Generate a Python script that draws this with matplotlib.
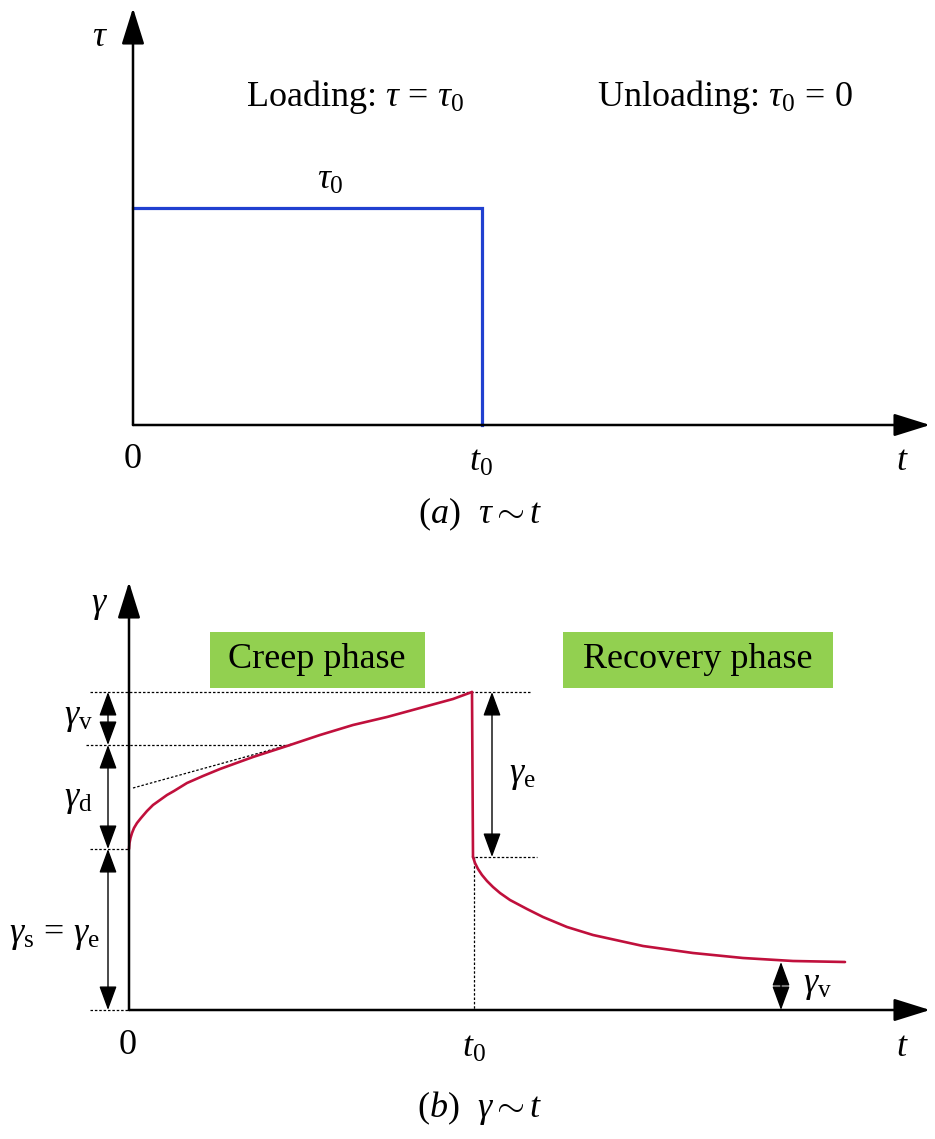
import matplotlib
matplotlib.use("Agg")
import matplotlib.pyplot as plt
from matplotlib.patches import Rectangle

plt.rcParams['font.family'] = ['Liberation Serif', 'DejaVu Serif']
plt.rcParams['mathtext.fontset'] = 'custom'
plt.rcParams['mathtext.rm'] = 'Liberation Serif'
plt.rcParams['mathtext.it'] = 'Liberation Serif:italic'

# panel (a): stress history (pixel coords of the sketch)
tau_t = [133, 482, 482]
tau_v = [208, 208, 425]

# panel (b): strain history
creep_t = [129, 129.5, 130.5, 132, 134, 137, 141, 147, 153, 160, 167, 174,
           187, 203, 220, 253, 287, 320, 353, 387, 420, 453, 472]
creep_g = [849, 843, 838, 833, 828, 823, 818, 811, 805, 800, 795, 791,
           783, 776, 769, 757, 746, 735, 725, 717, 708, 699, 692]
drop_t = [472, 473]
drop_g = [692, 857]
rec_t = [473, 475, 478, 482, 487, 493, 500, 510, 527, 543, 567, 593, 643,
         693, 743, 793, 845]
rec_g = [857, 863, 869, 875, 881, 887, 893, 900, 909, 917, 927, 935, 946,
         953, 958, 961, 962]

FS = 26
RED = '#c0103c'
BLUE = '#2040d0'
GREEN = '#92d050'

fig = plt.figure(figsize=(9.35, 11.39), dpi=100)
ax = fig.add_axes([0, 0, 1, 1])
ax.set_xlim(0, 935)
ax.set_ylim(1139, 0)
ax.axis('off')


def axis_arrow(x0, y0, x1, y1):
    ax.annotate('', xy=(x1, y1), xytext=(x0, y0),
                arrowprops=dict(arrowstyle='-|>,head_length=1.6,head_width=0.5',
                                color='k', lw=1.8, shrinkA=0, shrinkB=0,
                                mutation_scale=14))


def dim_arrow(x, y0, y1):
    ax.annotate('', xy=(x, y1), xytext=(x, y0),
                arrowprops=dict(arrowstyle='<|-|>,head_length=1.5,head_width=0.55',
                                color='k', lw=1.0, shrinkA=0, shrinkB=0,
                                mutation_scale=10))


def dotted(xs, ys):
    ax.plot(xs, ys, color='k', lw=0.9, ls=(0, (2, 1.5)))


# ---- (a) ----
axis_arrow(133, 425, 133, 8)
axis_arrow(133, 425, 930, 425)
ax.plot(tau_t, tau_v, color=BLUE, lw=2.3, solid_joinstyle='miter')
ax.text(100, 38, r'$\tau$', fontsize=FS, ha='center', va='center')
ax.text(355, 97, r'Loading: $\tau\,=\,\tau_0$', fontsize=FS, ha='center', va='center')
ax.text(725, 97, r'Unloading: $\tau_0\,=\,0$', fontsize=FS, ha='center', va='center')
ax.text(330, 180, r'$\tau_0$', fontsize=FS, ha='center', va='center')
ax.text(133, 460, '0', fontsize=FS, ha='center', va='center')
ax.text(481, 462, r'$t_0$', fontsize=FS, ha='center', va='center')
ax.text(902, 462, r'$t$', fontsize=FS, ha='center', va='center')
ax.text(480, 514, r'$(a)$  $\tau\sim t$', fontsize=FS, ha='center', va='center')

# ---- (b) ----
axis_arrow(129, 1010, 129, 582)
axis_arrow(129, 1010, 930, 1010)

ax.add_patch(Rectangle((210, 632), 215, 56, color=GREEN, lw=0))
ax.add_patch(Rectangle((563, 632), 270, 56, color=GREEN, lw=0))
ax.text(317, 660, 'Creep phase', fontsize=FS, ha='center', va='center')
ax.text(698, 660, 'Recovery phase', fontsize=FS, ha='center', va='center')

dotted([90, 530], [692, 692])
dotted([86, 290], [745, 745])
dotted([90, 129], [849, 849])
dotted([90, 129], [1010, 1010])
dotted([475, 537], [857, 857])
dotted([474, 474], [857, 1010])
dotted([133, 292], [788, 744])

for xs, ys in [(creep_t, creep_g), (drop_t, drop_g), (rec_t, rec_g)]:
    ax.plot(xs, ys, color=RED, lw=1.9, solid_joinstyle='round',
            solid_capstyle='round')

dim_arrow(108, 692, 745)
dim_arrow(108, 745, 849)
dim_arrow(108, 849, 1010)
dim_arrow(492, 692, 857)
dim_arrow(781, 962, 1010)

ax.text(100, 606, r'$\gamma$', fontsize=FS, ha='center', va='center')
ax.text(78, 718, r'$\gamma_{\rm v}$', fontsize=FS, ha='center', va='center')
ax.text(78, 800, r'$\gamma_{\rm d}$', fontsize=FS, ha='center', va='center')
ax.text(55, 936, r'$\gamma_{\rm s}\,=\,\gamma_{\rm e}$', fontsize=FS, ha='center', va='center')
ax.text(522, 775, r'$\gamma_{\rm e}$', fontsize=FS, ha='center', va='center')
ax.text(817, 986, r'$\gamma_{\rm v}$', fontsize=FS, ha='center', va='center')
ax.text(128, 1046, '0', fontsize=FS, ha='center', va='center')
ax.text(474, 1048, r'$t_0$', fontsize=FS, ha='center', va='center')
ax.text(902, 1048, r'$t$', fontsize=FS, ha='center', va='center')
ax.text(480, 1108, r'$(b)$  $\gamma\sim t$', fontsize=FS, ha='center', va='center')

fig.savefig('out.png', dpi=100)
